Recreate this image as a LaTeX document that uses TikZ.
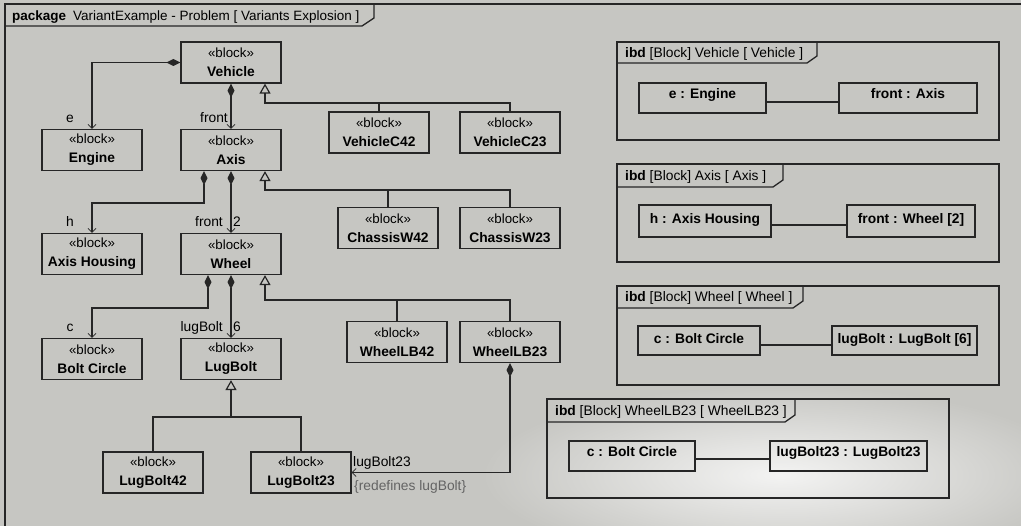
\documentclass[tikz,border=0pt]{standalone}
\usepackage{fontspec}
\setmainfont{Liberation Sans}
\usetikzlibrary{arrows.meta,calc,fadings}
\definecolor{bg}{RGB}{198,198,194}
\definecolor{ln}{RGB}{38,38,38}
\definecolor{note}{RGB}{100,100,100}
\tikzfading[name=glowfade, inner color=transparent!0, outer color=transparent!100]
\begin{document}
\begin{tikzpicture}[x=1pt,y=-1pt,
  every node/.style={font=\fontsize{13.8}{19}\selectfont, text=black},
  blk/.style={draw=ln, line width=1.2pt, minimum width=100pt, minimum height=41pt, inner sep=0pt, align=center},
  part/.style={draw=ln, line width=1.2pt, inner sep=0pt, font=\fontsize{13.8}{16}\selectfont\bfseries},
  con/.style={draw=ln, line width=1.2pt},
  comp/.style={con, {Diamond[length=14pt,width=7pt,fill=ln]}-{Straight Barb[length=4pt,width=8pt,line width=0.8pt]}},
  gen/.style={con, -{Triangle[open,length=10pt,width=11pt,fill=bg]}},
  lbl/.style={inner sep=0pt},
  frm/.style={draw=ln, line width=1.3pt},
]
\useasboundingbox (0,0) rectangle (1021,526);
\clip (0,0) rectangle (1021,526);
% background
\fill[bg] (0,0) rectangle (1021,526);
\fill[white, opacity=0.8, path fading=glowfade] (780,475) ellipse [x radius=300, y radius=90];

% package frame
\draw[frm] (1022,4) -- (5,4) -- (5,527);
\draw[frm] (5,26) -- (362,26) -- (374,18) -- (374,4);
\node[lbl, anchor=base west, font=\fontsize{13.5}{16}\selectfont] (ptitle) at (12,21) {\textbf{package}\hspace{7pt}VariantExample - Problem [ Variants Explosion ]};

% blocks
\newcommand\blkt[1]{{\fontsize{13.3}{19}\selectfont «block»}\\\textbf{#1}}
\node[blk] (vehicle) at (231,62.5) {\blkt{Vehicle}};
\node[blk] (engine)  at (92,150)   {\blkt{Engine}};
\node[blk] (axis)    at (231,150)  {\blkt{Axis}};
\node[blk] (ah)      at (92,254)   {\blkt{Axis Housing}};
\node[blk] (wheel)   at (231,254)  {\blkt{Wheel}};
\node[blk] (bc)      at (92,359)   {\blkt{Bolt Circle}};
\node[blk] (lugbolt) at (231,359)  {\blkt{LugBolt}};
\node[blk] (lb42)    at (153,472.5) {\blkt{LugBolt42}};
\node[blk] (lb23)    at (301,472.5) {\blkt{LugBolt23}};
\node[blk] (vc42)    at (379,132.5) {\blkt{VehicleC42}};
\node[blk] (vc23)    at (510,132.5) {\blkt{VehicleC23}};
\node[blk] (cw42)    at (388,228)  {\blkt{ChassisW42}};
\node[blk] (cw23)    at (510,228)  {\blkt{ChassisW23}};
\node[blk] (wlb42)   at (397,342)  {\blkt{WheelLB42}};
\node[blk] (wlb23)   at (510,342)  {\blkt{WheelLB23}};

% composition connectors
\draw[comp] (vehicle.west) -| (engine.north);
\draw[comp] (vehicle.south) -- (axis.north);
\draw[comp] ([xshift=-27pt]axis.south) -- ++(0,32) -| (ah.north);
\draw[comp] (axis.south) -- (wheel.north);
\draw[comp] ([xshift=-23pt]wheel.south) -- ++(0,33) -| (bc.north);
\draw[comp] (wheel.south) -- (lugbolt.north);
\draw[comp] (wlb23.south) |- (lb23.east);

% generalizations
\coordinate (g1) at (265,103);
\draw[gen] (vc23.north) |- (g1) -- (vehicle.south -| g1);
\draw[con] (vc42.north) -- (vc42.north |- g1);
\coordinate (g2) at (265,190);
\draw[gen] (cw23.north) |- (g2) -- (axis.south -| g2);
\draw[con] (cw42.north) -- (cw42.north |- g2);
\coordinate (g3) at (265,300);
\draw[gen] (wlb23.north) |- (g3) -- (wheel.south -| g3);
\draw[con] (wlb42.north) -- (wlb42.north |- g3);
\coordinate (g4) at (231,417);
\draw[con] (lb42.north) |- (g4) -| (lb23.north);
\draw[gen] (g4) -- (lugbolt.south);

% role labels
\node[lbl, anchor=base] (le) at (70,122.5) {e};
\node[lbl, anchor=base east] (lfront1) at (228,122.5) {front};
\node[lbl, anchor=base] (lh) at (70,227) {h};
\node[lbl, anchor=base east] (lfront2) at (223,227) {front};
\node[lbl, anchor=base west] (l2) at (233,227) {2};
\node[lbl, anchor=base] (lc) at (70,332) {c};
\node[lbl, anchor=base east] (llug) at (223,332) {lugBolt};
\node[lbl, anchor=base west] (l6) at (233,332) {6};
\node[lbl, anchor=base west] (llug23) at (353,467) {lugBolt23};
\node[lbl, anchor=base west, text=note] (lredef) at (354,491) {\{redefines lugBolt\}};

% ibd frames
\draw[frm] (617,42) rectangle (999,140);
\draw[frm] (617,63) -- (807,63) -- (817,56) -- (817,42);
\node[lbl, anchor=base west] (t1) at (625,58) {\textbf{ibd} [Block] Vehicle [ Vehicle ]};
\node[part, minimum width=127pt, text height=15.3pt, text depth=14.7pt] (p1a) at (702.5,98) {e : Engine};
\node[part, minimum width=138pt, text height=15.3pt, text depth=14.7pt] (p1b) at (908,98) {front : Axis};
\draw[con] ([yshift=-4pt]p1a.east) -- ([yshift=-4pt]p1b.west);

\draw[frm] (617,164) rectangle (999,262);
\draw[frm] (617,187) -- (773,187) -- (783,180) -- (783,164);
\node[lbl, anchor=base west] (t2) at (625,181) {\textbf{ibd} [Block] Axis [ Axis ]};
\node[part, minimum width=132pt, text height=19pt, text depth=13pt] (p2a) at (705,221) {h : Axis Housing};
\node[part, minimum width=128pt, text height=19pt, text depth=13pt] (p2b) at (911,221) {front : Wheel [2]};
\draw[con] ([yshift=-4pt]p2a.east) -- ([yshift=-4pt]p2b.west);

\draw[frm] (617,286) rectangle (999,385);
\draw[frm] (617,308) -- (793,308) -- (803,301) -- (803,286);
\node[lbl, anchor=base west] (t3) at (625,302) {\textbf{ibd} [Block] Wheel [ Wheel ]};
\node[part, minimum width=122pt, text height=17.3pt, text depth=11.7pt] (p3a) at (699,340.5) {c : Bolt Circle};
\node[part, minimum width=145pt, text height=17.3pt, text depth=11.7pt] (p3b) at (904.5,340.5) {lugBolt : LugBolt [6]};
\draw[con] ([yshift=-4.5pt]p3a.east) -- ([yshift=-4.5pt]p3b.west);

\draw[frm] (547,399) rectangle (949,498);
\draw[frm] (547,422) -- (785,422) -- (795,415) -- (795,399);
\node[lbl, anchor=base west] (t4) at (555,416) {\textbf{ibd} [Block] WheelLB23 [ WheelLB23 ]};
\node[part, minimum width=126pt, text height=15.7pt, text depth=14.3pt] (p4a) at (632,456) {c : Bolt Circle};
\node[part, minimum width=157pt, text height=15.7pt, text depth=14.3pt] (p4b) at (848.5,456) {lugBolt23 : LugBolt23};
\draw[con] ([yshift=-3pt]p4a.east) -- ([yshift=-3pt]p4b.west);
\end{tikzpicture}
\end{document}
